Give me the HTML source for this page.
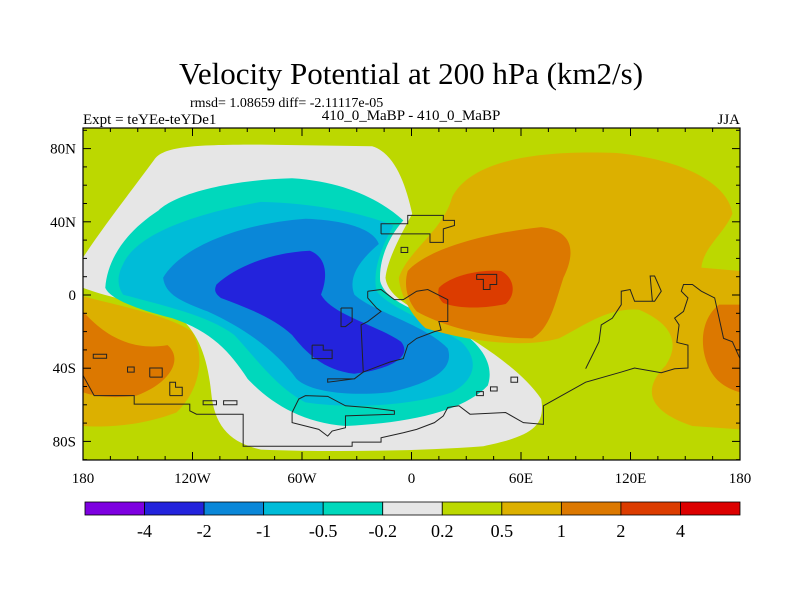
<!DOCTYPE html>
<html><head><meta charset="utf-8"><style>
body{margin:0;background:#fff;}
svg{display:block;font-family:"Liberation Serif",serif;}
</style></head><body>
<svg id="chart" width="800" height="600">
<text x="411" y="84" font-size="31" text-anchor="middle">Velocity Potential at 200 hPa (km2/s)</text>
<text x="190" y="107" font-size="14">rmsd= 1.08659 diff= -2.11117e-05</text>
<text x="83" y="124" font-size="15">Expt = teYEe-teYDe1</text>
<text x="411" y="120" font-size="15" text-anchor="middle">410_0_MaBP - 410_0_MaBP</text>
<text x="740" y="124" font-size="15" text-anchor="end">JJA</text>
<defs><clipPath id="pc"><rect x="83" y="128" width="657" height="332"/></clipPath></defs>
<g clip-path="url(#pc)">
<rect x="83" y="128" width="657" height="332" fill="#bcd800"/>
<g transform="translate(60.8,89) scale(0.4448,0.337)">
<path fill="#e6e6e6" d="M210,210 C230,170 300,165 450,165 L700,170 C750,190 775,280 790,370 C770,420 735,500 730,560 C735,620 800,660 870,700 C950,760 1040,840 1080,920 C1090,1000 1060,1030 950,1060 C800,1075 600,1078 450,1070 C380,1050 345,1000 338,900 C330,800 310,720 260,670 C200,640 110,620 50,590 L50,500 C100,400 160,300 210,210Z"/>
<path fill="#00d8bc" d="M220,360 C260,310 380,270 520,265 C640,275 720,330 770,390 C730,450 715,520 718,570 C730,630 800,660 880,700 C950,760 975,820 960,880 C910,950 800,990 640,1000 C540,990 470,930 420,860 C380,780 340,720 250,680 C160,650 110,620 100,590 C105,500 150,420 220,360Z"/>
<path fill="#00bcd8" d="M140,520 C170,430 300,370 450,335 C600,340 700,380 748,405 C720,470 700,540 710,600 C740,650 830,690 900,750 C940,800 935,860 880,900 C790,940 650,950 550,930 C480,880 440,800 390,730 C330,670 220,640 140,610 C125,580 128,550 140,520Z"/>
<path fill="#0a87d8" d="M230,560 C270,470 400,400 550,385 C650,390 705,420 715,460 C670,510 645,560 660,610 C700,660 820,700 870,770 C885,830 840,870 740,900 C650,912 560,900 530,860 C490,790 430,720 330,660 C270,630 235,610 230,560Z"/>
<path fill="#2323dc" d="M350,580 C400,520 480,485 560,480 C600,500 600,560 585,610 C610,670 710,700 765,750 C790,790 750,830 660,845 C590,835 550,780 520,730 C480,680 420,650 360,620 C345,605 345,595 350,580Z"/>
<path fill="#dcb000" d="M760,560 C780,480 860,420 880,320 C920,220 1050,180 1250,190 C1400,210 1500,280 1510,370 C1490,430 1445,470 1440,530 L1527,540 L1527,1010 L1420,1000 C1330,960 1300,900 1360,820 C1390,760 1380,700 1300,655 C1230,648 1180,700 1120,740 C1040,770 920,750 820,710 C780,660 762,600 760,560Z"/>
<path fill="#dc7800" d="M780,540 C820,480 940,430 1080,410 C1150,420 1160,480 1130,560 C1110,640 1100,710 1060,740 C960,740 860,705 800,660 C775,620 772,575 780,540Z"/>
<path fill="#dc7800" d="M1527,640 L1480,640 C1440,680 1435,760 1455,820 C1470,870 1500,890 1527,900Z"/>
<path fill="#dc3c00" d="M850,590 C880,550 950,535 990,540 C1020,560 1025,610 1000,638 C960,650 900,655 860,635 C848,620 847,605 850,590Z"/>
<path fill="#dcb000" d="M50,615 C120,640 240,670 295,720 C325,790 315,890 260,960 C180,1000 100,1005 50,1000Z"/>
<path fill="#dc7800" d="M50,660 C90,720 150,780 240,760 C275,800 250,870 170,910 C110,920 70,910 50,900Z"/>
<g fill="none" stroke="#222" stroke-width="1">
<polyline vector-effect="non-scaling-stroke" points="50,850 75,910 165,910 165,935 290,935 290,955 305,965 410,965 410,1060 655,1060 655,1048 720,1048 720,1035 770,1020 800,1010 840,990 860,970 870,945 895,940 920,965 1000,960 1040,990 1085,995 1085,940 1180,870 1260,840 1290,828 1350,842 1380,830 1410,828 1410,760 1385,752 1390,700 1380,680 1400,660 1410,620 1395,600 1400,580 1420,580 1440,600 1470,620 1490,740 1510,750 1520,780 1527,800"/>
<polyline vector-effect="non-scaling-stroke" points="1180,830 1195,790 1210,750 1215,700 1240,680 1260,640 1260,600 1280,595 1290,630 1330,630 1325,555 1335,555 1350,600 1335,630 1290,630"/>
<polyline vector-effect="non-scaling-stroke" points="690,600 720,595 750,625 770,625 800,600 825,595 870,625 870,690 850,690 855,715 840,720 800,740 780,760 770,800 740,810 720,820 680,840 660,860 600,860 600,870 660,860 680,840 675,700 690,690 720,660 710,650 690,620 690,600"/>
<polyline vector-effect="non-scaling-stroke" points="720,430 720,400 780,400 780,375 860,375 860,390 885,390 885,405 860,415 860,455 830,455 830,430 720,430"/>
<polyline vector-effect="non-scaling-stroke" points="520,960 535,920 550,910 600,912 640,940 690,945 750,955 750,965 640,970 640,1005 610,1015 600,1030 580,1010 520,990 520,960"/>
<polyline vector-effect="non-scaling-stroke" points="630,650 655,650 655,690 640,705 630,705 630,650"/>
<polyline vector-effect="non-scaling-stroke" points="565,760 590,760 590,775 610,775 610,800 565,800 565,760"/>
<polyline vector-effect="non-scaling-stroke" points="935,550 980,550 980,580 965,580 965,595 950,595 950,565 935,565 935,550"/>
<rect vector-effect="non-scaling-stroke" x="765" y="470" width="15" height="15"/>
<rect vector-effect="non-scaling-stroke" x="73" y="787" width="30" height="12"/>
<rect vector-effect="non-scaling-stroke" x="150" y="825" width="15" height="15"/>
<polyline vector-effect="non-scaling-stroke" points="200,855 200,828 228,828 228,855 200,855"/>
<polyline vector-effect="non-scaling-stroke" points="245,910 245,870 258,870 258,885 273,885 273,910 245,910"/>
<rect vector-effect="non-scaling-stroke" x="320" y="925" width="30" height="12"/>
<rect vector-effect="non-scaling-stroke" x="366" y="925" width="30" height="12"/>
<rect vector-effect="non-scaling-stroke" x="935" y="898" width="15" height="12"/>
<rect vector-effect="non-scaling-stroke" x="966" y="884" width="15" height="12"/>
<rect vector-effect="non-scaling-stroke" x="1012" y="855" width="15" height="15"/>
</g>
</g>
</g>
<rect x="83" y="128" width="657" height="332" fill="none" stroke="#000" stroke-width="1.2"/>
<g id="axes"></g>
<g id="colorbar"></g>
<script>
const lonTicks=[-180,-120,-60,0,60,120,180];
const lonLabels=["180","120W","60W","0","60E","120E","180"];
const latTicks=[80,40,0,-40,-80];
const latLabels=["80N","40N","0","40S","80S"];
const levels=["-4","-2","-1","-0.5","-0.2","0.2","0.5","1","2","4"];
const levelColors=["#7d00e0","#2323dc","#0a87d8","#00bcd8","#00d8bc","#e6e6e6","#bcd800","#dcb000","#dc7800","#dc3c00","#dc0000"];
const NS="http://www.w3.org/2000/svg";
const X0=83,X1=740,Y0=128,Y1=460;
function xs(lon){return X0+(lon+180)/360*(X1-X0);}
function ys(lat){return 295-lat*1.83;}
function mk(tag,attrs,parent){const e=document.createElementNS(NS,tag);for(const k in attrs)e.setAttribute(k,attrs[k]);parent.appendChild(e);return e;}
const ax=document.getElementById('axes');
for(let lon=-180;lon<=180;lon+=15){
  const major=lonTicks.includes(lon);const L=major?8:4;const x=xs(lon);
  let t=mk('line',{x1:x,x2:x,y1:Y1,y2:Y1-L,stroke:'#000'},ax);
  
  
  t=mk('line',{x1:x,x2:x,y1:Y0,y2:Y0+L,stroke:'#000'},ax);
  
  
}
lonTicks.forEach((lon,i)=>{const t=mk('text',{x:xs(lon),y:483,'font-size':15,'text-anchor':'middle'},ax);t.textContent=lonLabels[i];
  
  });
for(let lat=-90;lat<=90;lat+=10){
  const major=latTicks.includes(lat);const L=major?8:4;const y=ys(lat);
  let t=mk('line',{x1:X0,x2:X0+L,y1:y,y2:y,stroke:'#000'},ax);
  
  
  t=mk('line',{x1:X1,x2:X1-L,y1:y,y2:y,stroke:'#000'},ax);
  
  
}
latTicks.forEach((lat,i)=>{const t=mk('text',{x:76,y:ys(lat)+5,'font-size':15,'text-anchor':'end'},ax);t.textContent=latLabels[i];
  
  });
const cb=document.getElementById('colorbar');
const cbx=85,cbw=655,cby=502,cbh=13,bw=cbw/levelColors.length;
levelColors.forEach((c,i)=>{const r=mk('rect',{x:cbx+i*bw,y:cby,width:bw,height:cbh,fill:c,stroke:'#000','stroke-width':0.8},cb);
  
  });
levels.forEach((l,i)=>{const t=mk('text',{x:cbx+(i+1)*bw,y:537,'font-size':18,'text-anchor':'middle'},cb);t.textContent=l;
  
  });
</script>
</svg>
</body></html>
